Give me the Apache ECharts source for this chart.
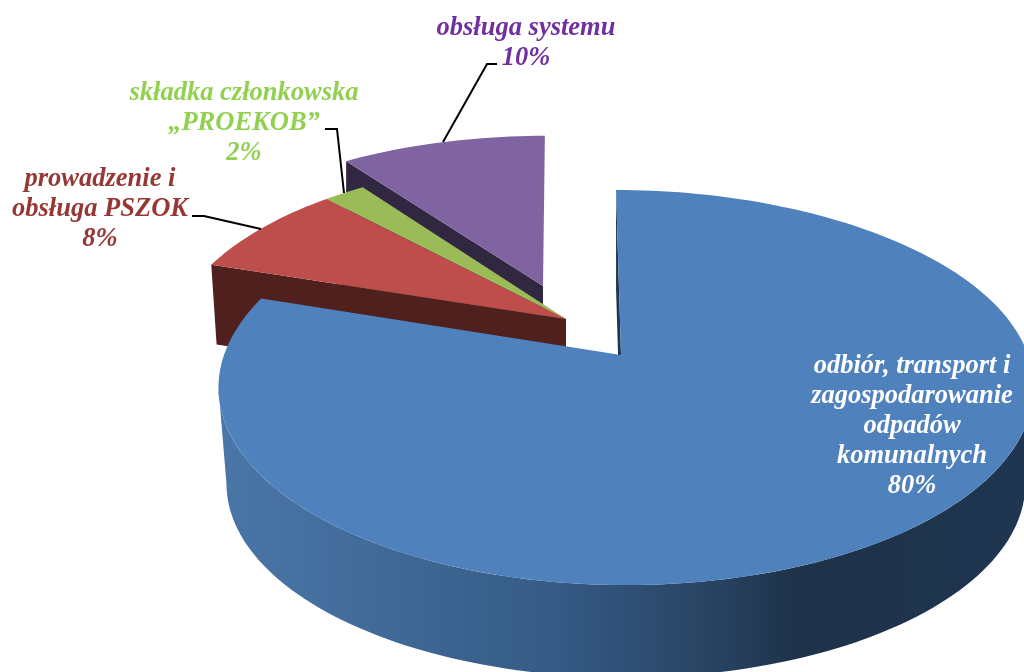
<!DOCTYPE html>
<html>
<head>
<meta charset="utf-8" />
<style>
  html, body { margin: 0; padding: 0; background: #fff; }
  #chart { width: 1024px; height: 672px; }
</style>
</head>
<body>
<div id="chart"></div>
<script src="https://cdn.jsdelivr.net/npm/echarts@6/dist/echarts.min.js"></script>
<script>
// dane
const categories = [
  "odbiór, transport i\nzagospodarowanie\nodpadów\nkomunalnych",
  "prowadzenie i\nobsługa PSZOK",
  "składka członkowska\n„PROEKOB”",
  "obsługa systemu",
];
const shares = [80, 8, 2, 10];

const topColors = ["#4f81bd", "#bd4e4b", "#9bbb59", "#8064a2"];
const wallColors = ["#1f3550", "#4f201e", "#4f6030", "#322741"];
const labelColors = ["#ffffff", "#953735", "#92d050", "#7030a0"];

// rzut perspektywiczny kazdego wycinka (wierzcholek, skala, glebokosc)
const tilt = 0.1646;
const radiusX = 402;
const radiusY = 192.2;
const sliceGeom = [
  { ax: 621, ay: 355, sx: 1, sy: 1, depth: 97, baseScale: 0.98, shiftX: 5, skew: -10, z: 40 },
  { ax: 566, ay: 319, sx: 0.975, sy: 0.96, depth: 79, baseScale: 0.985, shiftX: 0, skew: 0, z: 30 },
  { ax: 566, ay: 319, sx: 0.975, sy: 0.96, depth: 79, baseScale: 0.985, shiftX: 0, skew: 0, z: 25 },
  { ax: 543, ay: 286, sx: 0.95, sy: 0.91, depth: 62, baseScale: 1, shiftX: 0, skew: 2, z: 20 },
];
const labelPos = [
  [912, 426],
  [100, 209],
  [244, 123],
  [526, 43],
];
const leaders = [
  null,
  [[192, 216], [204, 216], [261, 229]],
  [[325, 129], [337, 129], [344, 193]],
  [[497, 64], [487, 64], [443, 142]],
];

const total = shares.reduce((a, b) => a + b, 0);

function project(g, deg, base) {
  const t = (deg * Math.PI) / 180;
  const u = Math.sin(t);
  const v = Math.cos(t);
  const w = 1 + tilt * v;
  const k = base ? g.baseScale : 1;
  const skewX = v > 0 ? g.skew * v * v : 0;
  return [
    g.ax + k * g.sx * (radiusX * u / w + g.shiftX + skewX),
    g.ay - k * g.sy * (radiusY * v / w) + (base ? g.depth : 0),
  ];
}

function apex(g, base) {
  return [g.ax, g.ay + (base ? g.depth : 0)];
}

function arc(g, from, to, base) {
  const pts = [];
  const n = Math.max(2, Math.ceil(Math.abs(to - from) / 1.5));
  for (let i = 0; i <= n; i++) {
    pts.push(project(g, from + ((to - from) * i) / n, base));
  }
  return pts;
}

function poly(points, fill, z2) {
  return { type: "polygon", z2: z2, shape: { points: points }, style: { fill: fill } };
}

function renderSlice(params, api) {
  const i = params.dataIndex;
  const g = sliceGeom[i];
  let start = 0;
  for (let k = 0; k < i; k++) start += (shares[k] / total) * 360;
  const end = start + (api.value(0) / total) * 360;
  const children = [];

  // sciana przy krawedzi poczatkowej wycinka
  children.push(
    poly(
      [project(g, start, false), apex(g, false), apex(g, true), project(g, start, true)],
      wallColors[i],
      g.z
    )
  );

  // zewnetrzna sciana duzego wycinka, od stycznej do stycznej
  if (i === 0) {
    const wallFill = {
      type: "linear",
      global: true,
      x: 218,
      y: 0,
      x2: 1024,
      y2: 0,
      colorStops: [
        { offset: 0, color: "#4a76a8" },
        { offset: 0.2, color: "#416a98" },
        { offset: 0.42, color: "#355a85" },
        { offset: 0.6, color: "#294565" },
        { offset: 0.72, color: "#1e3249" },
        { offset: 1, color: "#1f3550" },
      ],
    };
    const wall = arc(g, 99.5, 260.5, false).concat(arc(g, 260.5, 99.5, true));
    children.push(poly(wall, wallFill, g.z));
  }

  // wierzch wycinka
  const top = [apex(g, false)].concat(arc(g, start, end, false));
  children.push(poly(top, topColors[i], g.z + 1));

  if (leaders[i]) {
    children.push({
      type: "polyline",
      z2: 60,
      shape: { points: leaders[i] },
      style: { stroke: "#000", lineWidth: 2, fill: "none" },
    });
  }

  children.push({
    type: "text",
    z2: 70,
    style: {
      text: categories[i] + "\n" + api.value(0) + "%",
      x: labelPos[i][0],
      y: labelPos[i][1],
      align: "center",
      verticalAlign: "middle",
      lineHeight: 30,
      fill: labelColors[i],
      font: 'italic bold 26.5px "Liberation Serif"',
    },
  });
  return { type: "group", children: children };
}

const chart = echarts.init(document.getElementById("chart"));
chart.setOption({
  backgroundColor: "#ffffff",
  animation: false,
  series: [
    {
      type: "custom",
      coordinateSystem: "none",
      silent: true,
      clip: false,
      renderItem: renderSlice,
      data: shares.map((s) => [s]),
    },
  ],
});
</script>
</body>
</html>
